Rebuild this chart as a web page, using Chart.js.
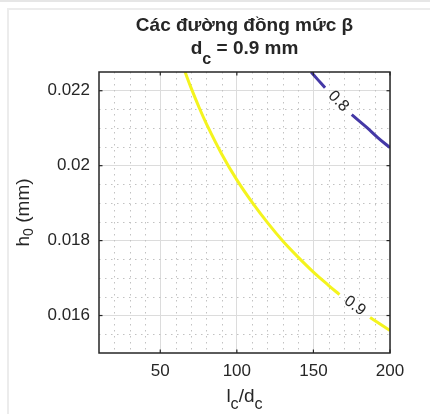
<!DOCTYPE html>
<html><head><meta charset="utf-8">
<script src="https://cdn.jsdelivr.net/npm/chart.js@4.4.1/dist/chart.umd.min.js"></script>
<style>
html,body{margin:0;padding:0;background:#fff;}
#wrap{position:relative;width:430px;height:414px;overflow:hidden;background:#fff;}
#topline{position:absolute;left:0;top:0;width:430px;height:2px;background:#e6e6e6;}
#frame{position:absolute;left:7px;top:8px;width:440px;height:420px;border-left:2px solid #ececec;border-top:2px solid #ececec;}
canvas{position:absolute;left:0;top:0;}
</style></head><body>
<div id="wrap"><div id="topline"></div><div id="frame"></div><canvas id="c" width="430" height="414"></canvas></div>
<script>
// ---- data ----
const xTickValues = [50, 100, 150, 200];
const xTickLabels = ['50', '100', '150', '200'];
const yTickValues = [0.016, 0.018, 0.020, 0.022];
const yTickLabels = ['0.016', '0.018', '0.02', '0.022'];
const xMinorValues = [20, 30, 40, 60, 70, 80, 90, 110, 120, 130, 140, 160, 170, 180, 190];
const yMinorValues = [0.0155, 0.0165, 0.017, 0.0175, 0.0185, 0.019, 0.0195, 0.0205, 0.021, 0.0215];
const contourLevels = ['0.8', '0.9'];
// level 0.9 (yellow); null marks the gap where the label sits
const level09X = [66.2, 70, 75, 80, 90, 100, 110, 120, 130, 140, 150, 160, 167, 177, 187, 200];
const level09Y = [0.0225, 0.02209, 0.02159, 0.02113, 0.02032, 0.01962, 0.01902, 0.01848, 0.01799, 0.01756, 0.01716, 0.01680, 0.01656, null, 0.01595, 0.01560];
// level 0.8 (blue)
const level08X = [148.5, 153, 157.6, 166, 175, 184.8, 192, 200];
const level08Y = [0.0225, 0.02229, 0.02208, null, 0.02136, 0.02102, 0.02075, 0.02048];
const titleLine1 = 'Các đường đồng mức β';

const FONT = "'Liberation Sans', Arial, Helvetica, sans-serif";
const TXT = '#262626';

function toPts(xs, ys){ return xs.map((x,i)=>({x:x, y:ys[i]})); }

function drawRich(ctx, parts, cx, baseY, size, bold, angle, subScale, subOff){
  ctx.save();
  ctx.translate(cx, baseY);
  if (angle) ctx.rotate(angle);
  const f = (p)=> (bold?'bold ':'') + (p.sub? size*subScale : size) + 'px ' + FONT;
  let w = 0;
  parts.forEach(p=>{ ctx.font = f(p); w += ctx.measureText(p.t).width; });
  let x = -w/2;
  ctx.fillStyle = TXT;
  ctx.textBaseline = 'alphabetic';
  ctx.textAlign = 'left';
  parts.forEach(p=>{ ctx.font = f(p); ctx.fillText(p.t, x, p.sub ? subOff : 0); x += ctx.measureText(p.t).width; });
  ctx.restore();
}

const decor = {
  id: 'decor',
  beforeDatasetsDraw(chart){
    const {ctx, chartArea:a, scales:{x, y}} = chart;
    ctx.save();
    ctx.strokeStyle = '#c2c2c2';
    ctx.lineWidth = 1;
    ctx.setLineDash([1.5, 4.5]);
    xMinorValues.forEach(v=>{
      const px = Math.round(x.getPixelForValue(v)) + 0.5;
      ctx.beginPath(); ctx.moveTo(px, a.top); ctx.lineTo(px, a.bottom); ctx.stroke();
    });
    yMinorValues.forEach(v=>{
      const py = Math.round(y.getPixelForValue(v)) + 0.5;
      ctx.beginPath(); ctx.moveTo(a.left, py); ctx.lineTo(a.right, py); ctx.stroke();
    });
    ctx.restore();
  },
  afterDatasetsDraw(chart){
    const {ctx, chartArea:a, scales:{x, y}} = chart;
    ctx.save();
    // contour labels at the gaps
    const sets = [[level08X, level08Y, contourLevels[0]], [level09X, level09Y, contourLevels[1]]];
    sets.forEach(([xs, ys, lab])=>{
      const gi = ys.indexOf(null);
      const x0 = x.getPixelForValue(xs[gi-1]), y0 = y.getPixelForValue(ys[gi-1]);
      const x1 = x.getPixelForValue(xs[gi+1]), y1 = y.getPixelForValue(ys[gi+1]);
      const ang = Math.atan2(y1-y0, x1-x0);
      ctx.save();
      ctx.translate((x0+x1)/2, (y0+y1)/2);
      ctx.rotate(ang);
      ctx.font = '16px ' + FONT;
      ctx.fillStyle = TXT;
      ctx.textAlign = 'center';
      ctx.textBaseline = 'middle';
      ctx.fillText(lab, 0, 0);
      ctx.restore();
    });
    // box
    ctx.strokeStyle = '#262626';
    ctx.lineWidth = 1.5;
    ctx.strokeRect(a.left, a.top, a.right - a.left, a.bottom - a.top);
    // inward ticks
    ctx.lineWidth = 1.2;
    const tl = 3.5;
    xTickValues.forEach(v=>{
      const px = x.getPixelForValue(v);
      ctx.beginPath(); ctx.moveTo(px, a.bottom); ctx.lineTo(px, a.bottom - tl); ctx.stroke();
      ctx.beginPath(); ctx.moveTo(px, a.top); ctx.lineTo(px, a.top + tl); ctx.stroke();
    });
    yTickValues.forEach(v=>{
      const py = y.getPixelForValue(v);
      ctx.beginPath(); ctx.moveTo(a.left, py); ctx.lineTo(a.left + tl, py); ctx.stroke();
      ctx.beginPath(); ctx.moveTo(a.right, py); ctx.lineTo(a.right - tl, py); ctx.stroke();
    });
    ctx.restore();
  },
  afterDraw(chart){
    const {ctx, chartArea:a} = chart;
    const cx = (a.left + a.right)/2;
    drawRich(ctx, [{t:titleLine1}], cx, 31, 19, true, 0, 1, 0);
    drawRich(ctx, [{t:'d'},{t:'c', sub:true},{t:' = 0.9 mm'}], cx, 54, 19, true, 0, 0.85, 10);
    drawRich(ctx, [{t:'l'},{t:'c', sub:true},{t:'/d'},{t:'c', sub:true}], cx, 402, 19, false, 0, 0.85, 7);
    drawRich(ctx, [{t:'h'},{t:'0', sub:true},{t:' (mm)'}], 29, (a.top + a.bottom)/2, 19, false, -Math.PI/2, 0.75, 4);
  }
};

new Chart(document.getElementById('c'), {
  type: 'scatter',
  data: { datasets: [
    { label: contourLevels[1], data: toPts(level09X, level09Y), showLine: true, spanGaps: false,
      borderColor: '#f4f41e', borderWidth: 3, pointRadius: 0, tension: 0.4 },
    { label: contourLevels[0], data: toPts(level08X, level08Y), showLine: true, spanGaps: false,
      borderColor: '#4438a6', borderWidth: 3, pointRadius: 0, tension: 0.4 }
  ]},
  options: {
    responsive: false, animation: false, devicePixelRatio: 1,
    layout: { padding: { left: 0, top: 72, right: 40, bottom: 0 } },
    plugins: { legend: {display:false}, tooltip: {enabled:false}, title: {display:false} },
    scales: {
      x: { type: 'linear', min: 10, max: 200,
        afterBuildTicks: s => { s.ticks = xTickValues.map(v=>({value:v})); },
        afterFit: s => { s.height = 61; },
        grid: { color: '#dcdcdc', lineWidth: 1, drawTicks: false },
        border: { display: false },
        ticks: { color: TXT, font: { family: FONT, size: 17 }, padding: 8, maxRotation: 0, autoSkip: false,
          callback: v => xTickLabels[xTickValues.indexOf(v)] }
      },
      y: { type: 'linear', min: 0.015, max: 0.0225,
        afterBuildTicks: s => { s.ticks = yTickValues.map(v=>({value:v})); },
        afterFit: s => { s.width = 99; },
        grid: { color: '#dcdcdc', lineWidth: 1, drawTicks: false },
        border: { display: false },
        ticks: { color: TXT, font: { family: FONT, size: 17 }, padding: 9, autoSkip: false,
          callback: v => yTickLabels[yTickValues.indexOf(v)] }
      }
    }
  },
  plugins: [decor]
});
</script>
</body></html>
